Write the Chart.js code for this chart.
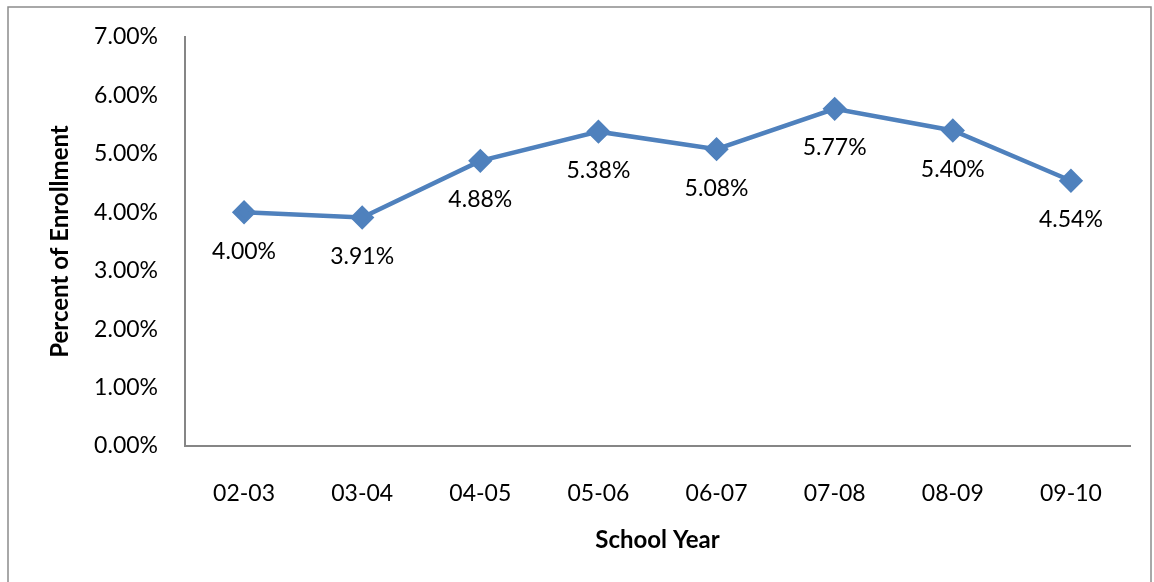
<!DOCTYPE html>
<html lang="en">
<head>
  <meta charset="UTF-8">
  <title>Percent of Enrollment</title>
  <script src="https://cdn.jsdelivr.net/npm/chart.js"></script>
  <style>
    html, body {
      margin: 0;
      padding: 0;
      background: #fff;
    }
    #wrap {
      width: 1154px;
      height: 582px;
    }
  </style>
</head>
<body>
<div id="wrap">
  <canvas id="myChart" width="1154" height="582"></canvas>
</div>

<script>
  // data
  const schoolYears = ['02-03', '03-04', '04-05', '05-06', '06-07', '07-08', '08-09', '09-10'];
  const percentEnrollment = [4.00, 3.91, 4.88, 5.38, 5.08, 5.77, 5.40, 4.54];
  const yTicks = [0, 1, 2, 3, 4, 5, 6, 7];

  const FONT = 'Lato, "Open Sans", sans-serif';

  // outer frame like the exported picture
  const framePlugin = {
    id: 'frame',
    beforeDraw(chart) {
      const c = chart.ctx;
      c.save();
      c.fillStyle = '#fff';
      c.fillRect(0, 0, chart.width, chart.height);
      c.strokeStyle = '#8c8c8c';
      c.lineWidth = 1.5;
      c.strokeRect(8, 7, 1143, 620);
      c.restore();
    }
  };

  // value labels under each point
  const labelPlugin = {
    id: 'pointLabels',
    afterDatasetsDraw(chart) {
      const c = chart.ctx;
      const meta = chart.getDatasetMeta(0);
      c.save();
      c.font = '23px ' + FONT;
      c.fillStyle = '#000';
      c.textAlign = 'center';
      c.textBaseline = 'middle';
      meta.data.forEach((pt, i) => {
        c.fillText(percentEnrollment[i].toFixed(2) + '%', pt.x, pt.y + 39);
      });
      c.restore();
    }
  };

  const ctx = document.getElementById('myChart').getContext('2d');
  const myChart = new Chart(ctx, {
    type: 'line',
    data: {
      labels: schoolYears,
      datasets: [{
        data: percentEnrollment,
        borderColor: '#4f81bd',
        backgroundColor: '#4f81bd',
        borderWidth: 4.5,
        pointStyle: 'rectRot',
        pointRadius: 9,
        pointHoverRadius: 9,
        tension: 0
      }]
    },
    options: {
      responsive: false,
      animation: false,
      layout: {
        padding: { left: 46, top: 37, right: 24, bottom: 0 }
      },
      scales: {
        x: {
          offset: true,
          afterFit(scale) {
            scale.height = 582 - 446;
          },
          grid: { display: false },
          border: { display: true, color: '#868686', width: 2 },
          ticks: {
            padding: 26,
            color: '#000',
            font: { family: FONT, size: 23 }
          },
          title: {
            display: true,
            text: 'School Year',
            color: '#000',
            font: { family: FONT, size: 24, weight: 'bold' },
            padding: { top: 0, bottom: 27 }
          }
        },
        y: {
          min: 0,
          max: 7,
          afterBuildTicks(scale) {
            scale.ticks = yTicks.map(v => ({ value: v }));
          },
          afterFit(scale) {
            scale.width = 185 - 46;
          },
          grid: { display: false },
          border: { display: true, color: '#868686', width: 2 },
          ticks: {
            padding: 19,
            color: '#000',
            font: { family: FONT, size: 23 },
            callback: v => v.toFixed(2) + '%'
          },
          title: {
            display: true,
            text: 'Percent of Enrollment',
            color: '#000',
            font: { family: FONT, size: 24, weight: 'bold' },
            padding: { top: 0, bottom: 0 }
          }
        }
      },
      plugins: {
        legend: { display: false },
        tooltip: { enabled: false }
      }
    },
    plugins: [framePlugin, labelPlugin]
  });
</script>
</body>
</html>
